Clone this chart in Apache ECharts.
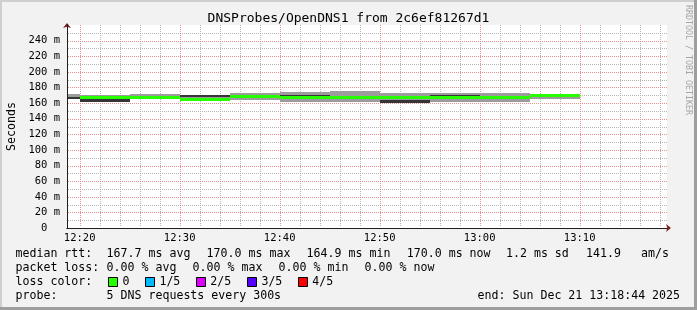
<!DOCTYPE html>
<html><head><meta charset="utf-8">
<script src="https://cdn.jsdelivr.net/npm/echarts@6/dist/echarts.min.js"></script>
<style>html,body{margin:0;padding:0;background:#f2f2f2}#c{width:697px;height:310px}</style>
</head><body><div id="c"></div>
<script>
// ---------------- data ----------------
const titleText = 'DNSProbes/OpenDNS1 from 2c6ef81267d1';
const yAxisName = 'Seconds';
const xAxisStart = '12:18:44';
const xAxisEnd = '13:18:44';
const stepStarts = ['12:15','12:20','12:25','12:30','12:35','12:40','12:45','12:50','12:55','13:00','13:05'];
const stepMinutes = 5;
// ms values: outer smoke (lowest/highest ping), inner smoke, median rtt
const smokeLow  = [165.8, 162.0, 166.8, 162.9, 164.1, 161.6, 161.6, 160.7, 161.6, 161.6, 165.0];
const smokeHigh = [171.9, 170.5, 171.9, 170.2, 172.8, 174.4, 176.1, 172.8, 172.8, 172.8, 171.5];
const innerLow  = [165.8, 162.0, null, 168.4, null, 169.3, null, 160.7, 169.3, null, null];
const innerHigh = [167.6, 165.4, null, 170.2, null, 170.4, null, 164.1, 170.4, null, null];
const medianRtt = [null, 167.2, 167.6, 164.9, 168.4, 167.6, 167.6, 166.8, 167.6, 167.7, 170.0];
const yMin = 0, yMax = 260, yStep = 20, yMinorStep = 10;
const xMajorMinutes = 10, xMinorMinutes = 2;
// legend texts
const medianLabel = 'median rtt:';
const medianStats = ['167.7 ms avg', '170.0 ms max', '164.9 ms min', '170.0 ms now', '1.2 ms sd', '141.9', 'am/s'];
const lossLabel = 'packet loss:';
const lossStats = ['0.00 % avg', '0.00 % max', '0.00 % min', '0.00 % now'];
const lossColorLabel = 'loss color:';
const lossLabels = ['0', '1/5', '2/5', '3/5', '4/5'];
const probeLabel = 'probe:';
const probeText = '5 DNS requests every 300s';
const endText = 'end: Sun Dec 21 13:18:44 2025';
const creditText = 'RRDTOOL / TOBI OETIKER';

// ---------------- styles / layout ----------------
const lossColors = ['#26ff00', '#00b8ff', '#dd00ff', '#5500ff', '#ff0000'];
const FONT = '"DejaVu Sans Mono", monospace';
const C_LIGHT = '#9c9c9c', C_DARK = '#353535', C_MED = lossColors[0];
const GRID_MINOR = '#b4b4b4', GRID_MAJOR = '#ea9090';
const AXIS_C = '#1f1f1f', ARROW_C = '#801f1f';

function toMin(s){ const p = s.split(':').map(Number); return p[0]*60 + p[1] + (p[2]||0)/60; }
function fmtTime(v){ const h = Math.floor(v/60 + 1e-9); const m = Math.round(v - h*60); return h + ':' + String(m).padStart(2,'0'); }

const starts = stepStarts.map(toMin);
const outerData = starts.map((s,i)=>[s, s+stepMinutes, smokeLow[i], smokeHigh[i]]);
const innerData = starts.map((s,i)=>[s, s+stepMinutes, innerLow[i], innerHigh[i]]).filter(d=>d[2]!=null);
const medianData = starts.map((s,i)=>[s, s+stepMinutes, medianRtt[i]]).filter(d=>d[2]!=null);

const xMin = toMin(xAxisStart), xMax = toMin(xAxisEnd);
// grid tick positions (axis units)
const xMajorTicks = [], xMinorTicks = [], yMajorTicks = [], yMinorTicks = [];
for (let v = Math.ceil(xMin / xMinorMinutes) * xMinorMinutes; v < xMax; v += xMinorMinutes) {
  (v % xMajorMinutes === 0 ? xMajorTicks : xMinorTicks).push(v);
}
for (let v = yMin + yMinorStep; v < yMax; v += yMinorStep) {
  (v % yStep === 0 ? yMajorTicks : yMinorTicks).push(v);
}

function clip(r, cs){ return echarts.graphic.clipRectByRect(r, {x:cs.x + 1, y:cs.y, width:cs.width - 1, height:cs.height}); }
function bandRender(color){
  return function(params, api){
    const a = api.coord([api.value(0), api.value(3)]);
    const b = api.coord([api.value(1), api.value(2)]);
    const x0 = Math.round(a[0]), x1 = Math.round(b[0]);
    const y0 = Math.round(a[1]), y1 = Math.round(b[1]);
    const r = clip({x:x0, y:y0, width:x1-x0, height:y1-y0}, params.coordSys);
    return r && {type:'rect', shape:r, style:{fill:color}};
  };
}
function medianRender(params, api){
  const a = api.coord([api.value(0), api.value(2)]);
  const b = api.coord([api.value(1), api.value(2)]);
  const x0 = Math.round(a[0]), x1 = Math.round(b[0]);
  const y0 = Math.round(a[1] - 1.5);
  const r = clip({x:x0, y:y0, width:x1-x0, height:3}, params.coordSys);
  return r && {type:'rect', shape:r, style:{fill:C_MED}};
}
function vGridRender(color){
  return function(params, api){
    const cs = params.coordSys;
    const x = Math.round(api.coord([api.value(0), yMin])[0]) + 0.5;
    return {type:'line', shape:{x1:x, y1:cs.y, x2:x, y2:cs.y + cs.height - 1},
      style:{stroke:color, lineWidth:1, lineDash:[1,1]}};
  };
}
function hGridRender(color){
  return function(params, api){
    const cs = params.coordSys;
    const y = Math.round(api.coord([xMin, api.value(1)])[1]) + 0.5;
    return {type:'line', shape:{x1:cs.x + 1, y1:y, x2:cs.x + cs.width, y2:y},
      style:{stroke:color, lineWidth:1, lineDash:[1,1]}};
  };
}

const chart = echarts.init(document.getElementById('c'), null, {renderer:'canvas'});

const noSplit = {splitLine:{show:false}, minorSplitLine:{show:false}, minorTick:{show:false}, axisTick:{show:false}};

const graphics = [];
function txt(x, y, t, extra){
  graphics.push(Object.assign({type:'text', x:x, y:y, silent:true,
    style:{text:t, fill:'#000', fontSize:11.6, fontFamily:FONT, verticalAlign:'middle'}}, extra||{}));
}
const rows = [254.3, 268.3, 282.3, 296.3];
txt(15.5, rows[0], medianLabel);
[106.6, 206.6, 306.6, 406.8, 506, 586, 641].forEach((x,i)=>txt(x, rows[0], medianStats[i]));
txt(15.5, rows[1], lossLabel);
[106.6, 192.6, 278.6, 364.6].forEach((x,i)=>txt(x, rows[1], lossStats[i]));
txt(15.5, rows[2], lossColorLabel);
const boxX = [108.5, 145.5, 196.5, 247.5, 298.5];
const lblX = [122.6, 159.4, 210.2, 261.4, 312.2];
lossLabels.forEach((l,i)=>{
  graphics.push({type:'rect', silent:true, shape:{x:boxX[i], y:277.5, width:9, height:9},
    style:{fill:lossColors[i], stroke:'#000', lineWidth:1}});
  txt(lblX[i], rows[2], l);
});
txt(15.5, rows[3], probeLabel);
txt(106.6, rows[3], probeText);
txt(477.6, rows[3], endText);
graphics.push({type:'text', x:688, y:60, rotation:-Math.PI/2, silent:true,
  style:{text:creditText, fill:'#a6a6a6', fontSize:8.3, fontFamily:FONT, align:'center', verticalAlign:'middle'}});
graphics.push({type:'rect', silent:true, shape:{x:0,y:0,width:697,height:2}, style:{fill:'#cfcfcf'}});
graphics.push({type:'rect', silent:true, shape:{x:0,y:0,width:2,height:310}, style:{fill:'#cfcfcf'}});
graphics.push({type:'rect', silent:true, shape:{x:694,y:0,width:3,height:310}, style:{fill:'#9e9e9e'}});
graphics.push({type:'rect', silent:true, shape:{x:0,y:307,width:697,height:3}, style:{fill:'#9e9e9e'}});

chart.setOption({
  backgroundColor:'#f2f2f2',
  animation:false,
  title:{text:titleText, left:'center', top:12, padding:0,
    textStyle:{fontFamily:FONT, fontSize:13, fontWeight:'normal', color:'#000'}},
  grid:{left:67, right:30, top:25, bottom:82, show:true, backgroundColor:'#ffffff', borderWidth:0, outerBoundsMode:'none', containLabel:false},
  xAxis:[
    Object.assign({
      type:'value', min:xMin, max:xMax, splitNumber:(xMax - xMin)/xMajorMinutes, minInterval:xMajorMinutes, maxInterval:xMajorMinutes,
      position:'bottom', z:1,
      axisLine:{show:true, onZero:false, lineStyle:{color:AXIS_C, width:1}},
      axisLabel:{show:true, color:'#000', fontFamily:FONT, fontSize:10.5, margin:5,
        showMinLabel:false, showMaxLabel:false, formatter:fmtTime}
    }, noSplit),
    Object.assign({
      type:'value', min:xMin, max:xMax, position:'bottom', z:0,
      axisLine:{show:true, onZero:false, lineStyle:{color:ARROW_C, width:1}, symbol:['none','arrow'], symbolSize:[6,5], symbolOffset:[0,4]},
      axisLabel:{show:false}
    }, noSplit)
  ],
  yAxis:[
    Object.assign({
      type:'value', min:yMin, max:yMax, interval:yStep, position:'left', z:1,
      name:yAxisName, nameLocation:'middle', nameGap:48, nameRotate:90,
      nameTextStyle:{fontFamily:FONT, fontSize:11.6, color:'#000'},
      axisLine:{show:true, onZero:false, lineStyle:{color:AXIS_C, width:1}},
      axisLabel:{show:true, color:'#000', fontFamily:FONT, fontSize:10.5, margin:7, showMaxLabel:false,
        formatter:v => v === 0 ? '0\u00a0\u00a0' : (v + ' m')}
    }, noSplit),
    Object.assign({
      type:'value', min:yMin, max:yMax, interval:yStep, position:'left', z:0,
      axisLine:{show:true, onZero:false, lineStyle:{color:ARROW_C, width:1}, symbol:['none','arrow'], symbolSize:[6,5], symbolOffset:[0,2]},
      axisLabel:{show:false}
    }, noSplit)
  ],
  series:[
    {type:'custom', name:'minor grid x', xAxisIndex:0, yAxisIndex:0, renderItem:vGridRender(GRID_MINOR),
      data:xMinorTicks.map(v=>[v, yMin]), encode:{x:0, y:1}, z:1, silent:true},
    {type:'custom', name:'minor grid y', xAxisIndex:0, yAxisIndex:0, renderItem:hGridRender(GRID_MINOR),
      data:yMinorTicks.map(v=>[xMin, v]), encode:{x:0, y:1}, z:1, silent:true},
    {type:'custom', name:'major grid x', xAxisIndex:0, yAxisIndex:0, renderItem:vGridRender(GRID_MAJOR),
      data:xMajorTicks.map(v=>[v, yMin]), encode:{x:0, y:1}, z:1, silent:true},
    {type:'custom', name:'major grid y', xAxisIndex:0, yAxisIndex:0, renderItem:hGridRender(GRID_MAJOR),
      data:yMajorTicks.map(v=>[xMin, v]), encode:{x:0, y:1}, z:1, silent:true},
    {type:'custom', name:'smoke outer', xAxisIndex:0, yAxisIndex:0, renderItem:bandRender(C_LIGHT),
      data:outerData, encode:{x:[0,1], y:[2,3]}, z:2},
    {type:'custom', name:'smoke inner', xAxisIndex:0, yAxisIndex:0, renderItem:bandRender(C_DARK),
      data:innerData, encode:{x:[0,1], y:[2,3]}, z:3},
    {type:'custom', name:'median rtt', xAxisIndex:0, yAxisIndex:0, renderItem:medianRender,
      data:medianData, encode:{x:[0,1], y:2}, z:4}
  ],
  graphic:graphics
});
</script></body></html>
